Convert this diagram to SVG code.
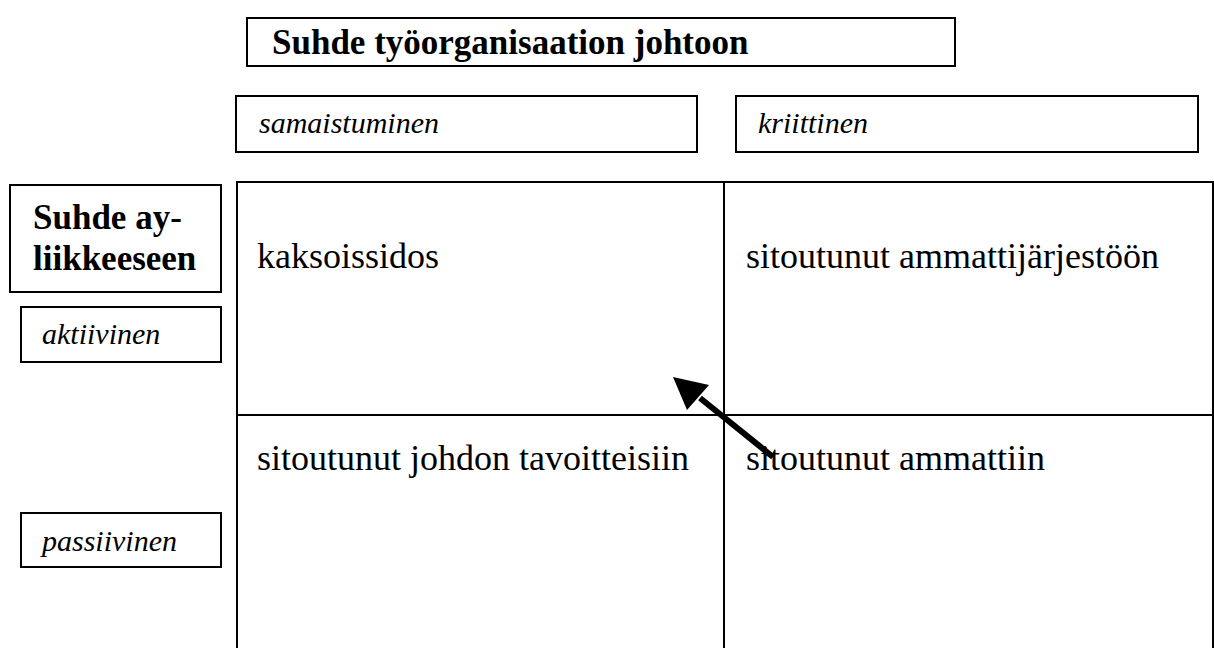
<svg xmlns="http://www.w3.org/2000/svg" width="1214" height="648" viewBox="0 0 1214 648">
<style>
.box{fill:#fff;stroke:#000;stroke-width:2}
.grid{fill:none;stroke:#000;stroke-width:2}
.b{font-family:"Liberation Serif",serif;font-weight:bold;font-size:35px;fill:#000}
.i{font-family:"Liberation Serif",serif;font-style:italic;font-size:30px;fill:#000}
.c{font-family:"Liberation Serif",serif;font-size:36px;fill:#000}
</style>
<rect width="1214" height="648" fill="#fff"/>
<g id="title"><rect class="box" x="247" y="18" width="708" height="48"/><text class="b" x="272" y="54">Suhde työorganisaation johtoon</text></g>
<g id="samaistuminen"><rect class="box" x="236" y="96" width="461" height="56"/><text class="i" x="259" y="133">samaistuminen</text></g>
<g id="kriittinen"><rect class="box" x="736" y="96" width="462" height="56"/><text class="i" x="758" y="133">kriittinen</text></g>
<g id="ay"><rect class="box" x="10" y="185" width="211" height="107"/><text class="b" x="33" y="229">Suhde ay-</text><text class="b" x="33" y="270">liikkeeseen</text></g>
<g id="aktiivinen"><rect class="box" x="21" y="307" width="200" height="55"/><text class="i" x="42" y="344">aktiivinen</text></g>
<g id="passiivinen"><rect class="box" x="21" y="513" width="200" height="54"/><text class="i" x="42" y="551">passiivinen</text></g>
<g id="grid"><rect class="grid" x="237" y="182" width="976" height="470"/><line class="grid" x1="724" y1="182" x2="724" y2="648"/><line class="grid" x1="237" y1="415" x2="1213" y2="415"/></g>
<g id="kaksoissidos"><text class="c" x="257" y="268">kaksoissidos</text></g>
<g id="ammattijarjesto"><text class="c" x="746" y="268">sitoutunut ammattijärjestöön</text></g>
<g id="johto"><text class="c" x="257" y="470">sitoutunut johdon tavoitteisiin</text></g>
<g id="ammatti"><text class="c" x="746" y="470">sitoutunut ammattiin</text></g>
<g id="connectors"><line x1="773" y1="457" x2="700" y2="398" stroke="#000" stroke-width="6"/><polygon points="673,377 709,385 687,410" fill="#000"/></g>
</svg>
